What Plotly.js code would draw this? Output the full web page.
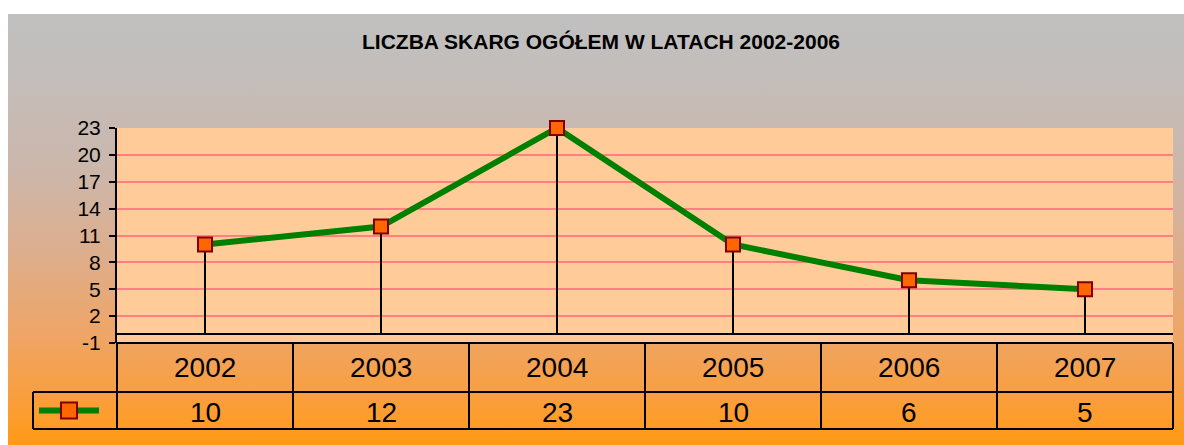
<!DOCTYPE html>
<html>
<head>
<meta charset="utf-8">
<script src="https://cdn.plot.ly/plotly-3.0.1.min.js"></script>
<style>
  html, body { margin: 0; padding: 0; background: #ffffff; }
  #bg { position: absolute; left: 8px; top: 14px; width: 1176px; height: 431px;
        background: linear-gradient(to bottom, #C0C0C0 0%, #C2BEBC 12%, #CBB7AC 35%, #DDAE8E 55%, #EFA565 75%, #FA9E3A 90%, #FF9A14 100%); }
  #chart { position: absolute; left: 0; top: 0; width: 1184px; height: 445px; }
</style>
</head>
<body>
<div id="bg"></div>
<div id="chart"></div>
<script>
// Data
const years = ['2002', '2003', '2004', '2005', '2006', '2007'];
const values = [10, 12, 23, 10, 6, 5];
const chartTitle = 'LICZBA SKARG OGÓŁEM W LATACH 2002-2006';
const yTicks = [-1, 2, 5, 8, 11, 14, 17, 20, 23];

const FONT = 'Arial, "Liberation Sans", sans-serif';

// drop lines from each point down to 0
const dropX = [], dropY = [];
years.forEach((y, i) => { dropX.push(y, y, null); dropY.push(0, values[i], null); });

const traces = [
  { x: dropX, y: dropY, mode: 'lines', type: 'scatter', line: { color: '#000000', width: 2 },
    hoverinfo: 'skip', showlegend: false, cliponaxis: false },
  { x: years, y: values, mode: 'lines+markers', type: 'scatter',
    line: { color: '#008000', width: 6 },
    marker: { symbol: 'square', size: 14, color: '#FF6600', line: { color: '#800000', width: 2 } },
    showlegend: false, cliponaxis: false }
];

// table geometry in paper coords (plot area spans y 343..128 px => 215 px)
const PH = 215, PW = 1056;
const rowTop = 0, rowMid = -49 / PH, rowBot = -86 / PH;
const keyLeft = -84 / PW;

const shapes = [];
const bl = { color: '#000000', width: 2 };
shapes.push({ type: 'line', xref: 'paper', yref: 'paper', x0: 0, x1: 1, y0: rowTop, y1: rowTop, line: bl });
shapes.push({ type: 'line', xref: 'paper', yref: 'paper', x0: keyLeft, x1: 1, y0: rowMid, y1: rowMid, line: bl });
shapes.push({ type: 'line', xref: 'paper', yref: 'paper', x0: keyLeft, x1: 1, y0: rowBot, y1: rowBot, line: bl });
shapes.push({ type: 'line', xref: 'paper', yref: 'paper', x0: 0, x1: 0, y0: rowTop, y1: rowBot, line: bl });
shapes.push({ type: 'line', xref: 'paper', yref: 'paper', x0: 1, x1: 1, y0: rowTop, y1: rowBot, line: bl });
shapes.push({ type: 'line', xref: 'paper', yref: 'paper', x0: keyLeft, x1: keyLeft, y0: rowMid, y1: rowBot, line: bl });
for (let i = 0; i < years.length - 1; i++) {
  shapes.push({ type: 'line', xref: 'x', yref: 'paper', x0: i + 0.5, x1: i + 0.5, y0: rowTop, y1: rowBot, line: bl });
}
// legend key: green line + orange square
const keyY = (rowMid + rowBot) / 2;
shapes.push({ type: 'line', xref: 'paper', yref: 'paper', x0: -78 / PW, x1: -18 / PW, y0: keyY, y1: keyY,
  line: { color: '#008000', width: 6 } });
shapes.push({ type: 'rect', xref: 'paper', yref: 'paper', x0: -56 / PW, x1: -40 / PW, y0: keyY - 8 / PH, y1: keyY + 8 / PH,
  fillcolor: '#FF6600', line: { color: '#800000', width: 2 } });

const annotations = [];
const n = years.length;
years.forEach((y, i) => {
  const xp = (i + 0.5) / n;
  annotations.push({ x: xp, xref: 'paper', y: (rowTop + rowMid) / 2, yref: 'paper', text: y, showarrow: false,
    font: { family: FONT, size: 28, color: '#000000' }, xanchor: 'center', yanchor: 'middle' });
  annotations.push({ x: xp, xref: 'paper', y: (rowMid + rowBot) / 2 - 2 / PH, yref: 'paper', text: String(values[i]), showarrow: false,
    font: { family: FONT, size: 28, color: '#000000' }, xanchor: 'center', yanchor: 'middle' });
});

const layout = {
  width: 1184, height: 445,
  margin: { l: 117, r: 11, t: 128, b: 102, pad: 0 },
  paper_bgcolor: 'rgba(0,0,0,0)',
  plot_bgcolor: '#FFCC99',
  showlegend: false,
  title: { text: '<b>' + chartTitle + '</b>', font: { family: FONT, size: 21, color: '#000000' },
    x: 601 / 1184, xanchor: 'center', xref: 'container', y: 1 - 42 / 445, yanchor: 'middle', yref: 'container' },
  xaxis: { type: 'category', range: [-0.5, years.length - 0.5], showticklabels: false, ticks: '',
    showgrid: false, zeroline: false, showline: false, fixedrange: true },
  yaxis: { range: [-1, 23], tickvals: yTicks, ticktext: yTicks.map(String),
    tickfont: { family: FONT, size: 21, color: '#000000' },
    ticks: 'outside', ticklen: 6, tickwidth: 2, tickcolor: '#000000', ticklabelstandoff: 4,
    showline: true, linecolor: '#000000', linewidth: 2,
    showgrid: true, gridcolor: '#FF8080', gridwidth: 2,
    zeroline: true, zerolinecolor: '#000000', zerolinewidth: 2, fixedrange: true },
  shapes: shapes,
  annotations: annotations
};

Plotly.newPlot('chart', traces, layout, { displayModeBar: false, staticPlot: true });
</script>
</body>
</html>
